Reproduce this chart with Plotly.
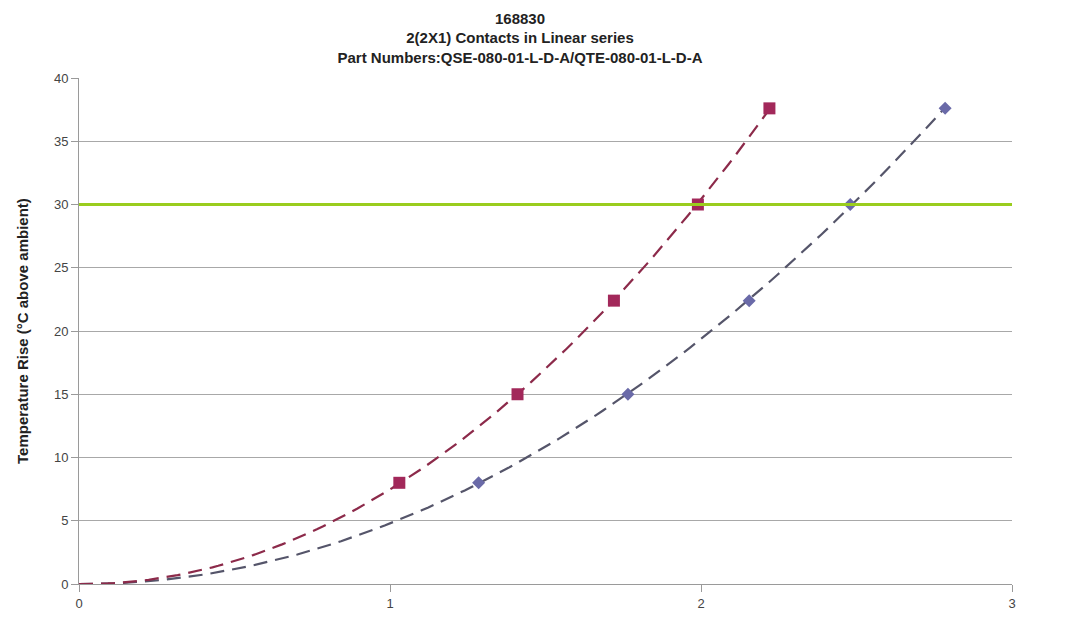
import numpy as np
import plotly.graph_objects as go

# Data
red_x = [1.03, 1.41, 1.72, 1.99, 2.22]
red_y = [8.0, 15.0, 22.4, 30.0, 37.6]
blue_x = [1.285, 1.765, 2.155, 2.48, 2.785]
blue_y = [8.0, 15.0, 22.4, 30.0, 37.6]
limit_y = 30
x_ticks = [0, 1, 2, 3]
y_ticks = [0, 5, 10, 15, 20, 25, 30, 35, 40]


def trend(xs, ys):
    xs = np.asarray(xs)
    ys = np.asarray(ys)
    A = np.vstack([xs ** 2, xs]).T
    coef, *_ = np.linalg.lstsq(A, ys, rcond=None)
    xx = np.linspace(0, xs.max(), 120)
    return xx, coef[0] * xx ** 2 + coef[1] * xx


fig = go.Figure()

rtx, rty = trend(red_x, red_y)
btx, bty = trend(blue_x, blue_y)

fig.add_trace(go.Scatter(x=btx, y=bty, mode="lines",
                         line=dict(color="#55556a", width=2.2, dash="14px,8px"),
                         hoverinfo="skip", showlegend=False))
fig.add_trace(go.Scatter(x=rtx, y=rty, mode="lines",
                         line=dict(color="#8c2a4a", width=2.2, dash="14px,8px"),
                         hoverinfo="skip", showlegend=False))

fig.add_trace(go.Scatter(x=blue_x, y=blue_y, mode="markers",
                         marker=dict(symbol="diamond", size=10, color="#6a6aa8"),
                         showlegend=False))
fig.add_trace(go.Scatter(x=red_x, y=red_y, mode="markers",
                         marker=dict(symbol="square", size=12, color="#a2285a"),
                         showlegend=False))

fig.add_shape(type="line", xref="paper", x0=0, x1=1, yref="y", y0=limit_y, y1=limit_y,
              line=dict(color="#9acd1e", width=3), layer="above")

W, H = 1072, 620
L, R, T, B = 71, 68, 70, 44

fig.add_annotation(text="<b>Temperature Rise (°C above ambient)</b>",
                   xref="paper", yref="paper",
                   x=(14 - L) / (W - L - R), y=0.5, xanchor="center", yanchor="middle",
                   textangle=-90, showarrow=False,
                   font=dict(size=15, color="#222222"))

fig.update_layout(
    width=W, height=H,
    paper_bgcolor="white", plot_bgcolor="white",
    margin=dict(l=L, r=R, t=T, b=B),
    font=dict(family="Liberation Sans, Arial, sans-serif", size=13, color="#444444"),
    title=dict(
        text="<b>168830<br>2(2X1) Contacts in Linear series<br>Part Numbers:QSE-080-01-L-D-A/QTE-080-01-L-D-A</b>",
        x=512 / W, xanchor="center", y=0.975, yanchor="top",
        font=dict(size=15, color="#222222"),
    ),
    showlegend=False,
)

fig.update_xaxes(range=[0, 3], tickvals=x_ticks, showgrid=False, zeroline=False,
                 showline=True, linecolor="#9a9a9a", linewidth=1,
                 ticks="outside", ticklen=7, tickcolor="#9a9a9a",
                 tickfont=dict(size=13, color="#444444"))
fig.update_yaxes(range=[0, 40], tickvals=y_ticks, showgrid=True, gridcolor="#a8a8a8",
                 gridwidth=1, zeroline=False,
                 showline=True, linecolor="#9a9a9a", linewidth=1,
                 ticks="outside", ticklen=7, tickcolor="#9a9a9a",
                 tickfont=dict(size=13, color="#444444"))

fig.write_html("out.html")
